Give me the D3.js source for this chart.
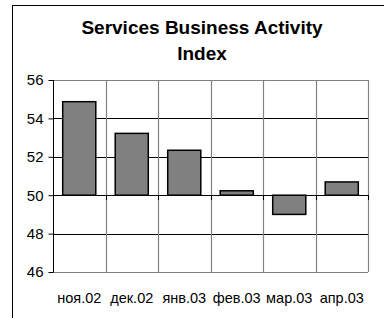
<!DOCTYPE html>
<meta charset="utf-8">
<style>
  body {
    margin: 0;
    overflow: hidden;
    background: #fff;
  }
  text {
    font-family: "Liberation Sans", Arial, sans-serif;
  }
</style>
<body>
</body>
<script src="https://cdn.jsdelivr.net/npm/d3@7"></script>
<script>

var months = ["ноя.02", "дек.02", "янв.03", "фев.03", "мар.03", "апр.03"];
var values = [54.87, 53.22, 52.34, 50.23, 49.0, 50.69];
var yTicks = [46, 48, 50, 52, 54, 56];
var titleLines = ["Services Business Activity", "Index"];

var width = 384,
    height = 318;

var plot = {left: 53, right: 368, top: 80, bottom: 272};

var x = d3.scaleBand()
    .domain(months)
    .range([plot.left, plot.right]);

var y = d3.scaleLinear()
    .domain([46, 56])
    .range([plot.bottom, plot.top]);

var svg = d3.select("body").append("svg")
    .attr("width", width)
    .attr("height", height);

// chart area border (cut off at right / bottom)
svg.append("rect")
    .attr("x", 12.5)
    .attr("y", 5.5)
    .attr("width", 500)
    .attr("height", 500)
    .style("fill", "#fff")
    .style("stroke", "#000")
    .style("stroke-width", 1);

// title
svg.append("g").selectAll("text")
    .data(titleLines)
  .enter().append("text")
    .attr("x", 202)
    .attr("y", (d, i) => 34 + i * 26)
    .attr("text-anchor", "middle")
    .style("font-size", "19px")
    .style("font-weight", "bold")
    .text(d => d);

// horizontal gridlines (black), frame top/bottom (gray)
svg.append("g").selectAll("line")
    .data(yTicks)
  .enter().append("line")
    .attr("x1", plot.left)
    .attr("x2", plot.right)
    .attr("y1", d => Math.round(y(d)) + 0.5)
    .attr("y2", d => Math.round(y(d)) + 0.5)
    .style("stroke", d => (d == 46 || d == 56) ? "#808080" : "#000")
    .style("stroke-width", 1);

// vertical gridlines (gray)
var bounds = months.slice(1).map(m => x(m)).concat([plot.right]);
svg.append("g").selectAll("line")
    .data(bounds)
  .enter().append("line")
    .attr("x1", d => Math.round(d) + 0.5)
    .attr("x2", d => Math.round(d) + 0.5)
    .attr("y1", plot.top)
    .attr("y2", plot.bottom)
    .style("stroke", "#808080")
    .style("stroke-width", 1.2);

// category axis ticks at y=50
svg.append("g").selectAll("line")
    .data(months.map(m => x(m)).concat([plot.right]))
  .enter().append("line")
    .attr("x1", d => Math.round(d) + 0.5)
    .attr("x2", d => Math.round(d) + 0.5)
    .attr("y1", Math.round(y(50)))
    .attr("y2", Math.round(y(50)) + 5)
    .style("stroke", "#000");

// bars
var bw = x.bandwidth() * 0.63;
svg.append("g").selectAll("rect")
    .data(values)
  .enter().append("rect")
    .attr("x", (d, i) => x(months[i]) + (x.bandwidth() - bw) / 2)
    .attr("width", bw)
    .attr("y", d => y(Math.max(d, 50)))
    .attr("height", d => Math.abs(y(d) - y(50)))
    .style("fill", "#808080")
    .style("stroke", "#000")
    .style("stroke-width", 1.5);

// value axis
var yAxis = svg.append("g")
    .attr("transform", "translate(" + (plot.left + 0.5) + ",0)")
    .call(d3.axisLeft(y).tickValues(yTicks).tickSize(5).tickPadding(5).tickFormat(d3.format("d")));

yAxis.select(".domain").attr("d", "M-0," + plot.top + "V" + plot.bottom).style("stroke", "#000");
yAxis.selectAll(".tick line").style("stroke", "#000");
yAxis.selectAll("text")
    .style("font-size", "15px")
    .style("font-family", "'Liberation Sans', Arial, sans-serif")
    .attr("fill", "#000");

// category labels
svg.append("g").selectAll("text")
    .data(months)
  .enter().append("text")
    .attr("x", d => x(d) + x.bandwidth() / 2)
    .attr("y", 303)
    .attr("text-anchor", "middle")
    .style("font-size", "14.5px")
    .text(d => d);

</script>
